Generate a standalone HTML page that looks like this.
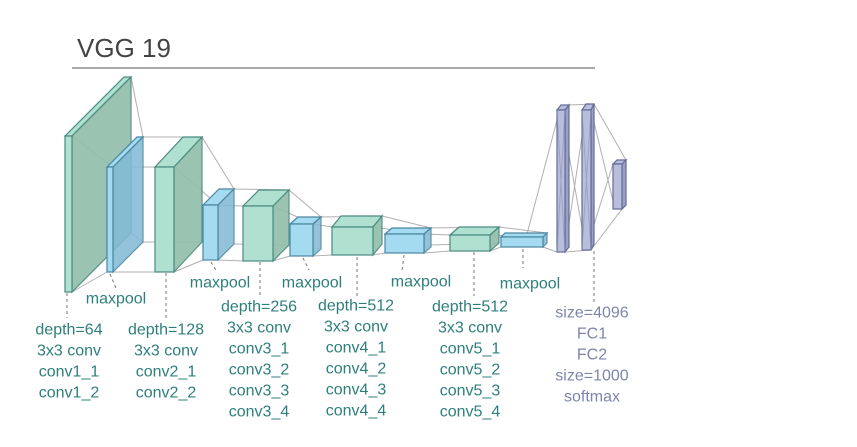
<!DOCTYPE html>
<html><head><meta charset="utf-8"><style>
html,body{margin:0;padding:0;background:#fff;}
svg{display:block;}
.t{font-family:"Liberation Sans",sans-serif;font-size:16px;fill:#2e7f7c;text-anchor:middle;dominant-baseline:central;}
.f{fill:#7d86aa;}
.gf{fill:#b0e0cf;stroke:#4b8a80;stroke-width:1.2;}
.gs{fill:#92bfab;stroke:#4b8a80;stroke-width:1.2;opacity:.92;}
.bf{fill:#a4dbf1;stroke:#4a86a0;stroke-width:1.2;}
.bs{fill:#84bbd6;stroke:#4a86a0;stroke-width:1.2;opacity:.88;}
.pf{fill:#b9bedd;stroke:#646a96;stroke-width:1.2;}
.ps{fill:#9ba1c6;stroke:#646a96;stroke-width:1.2;}
.c{stroke:#b0b0b0;stroke-width:1;fill:none;}
.d{stroke:#777;stroke-width:1;stroke-dasharray:3,3;fill:none;}
</style></head><body>
<svg width="857" height="447" viewBox="0 0 857 447">
<text x="77" y="57" style="font-family:'Liberation Sans',sans-serif;font-size:26px;fill:#444;">VGG 19</text>
<line x1="72" y1="68" x2="595" y2="68" stroke="#777" stroke-width="1.2"/>

<!-- connectors -->
<g class="c">
<line x1="131" y1="77" x2="143" y2="137"/>
<line x1="72" y1="136" x2="113" y2="167"/>
<line x1="72" y1="292" x2="107" y2="272"/>
<line x1="143" y1="137" x2="202" y2="137"/>
<line x1="113" y1="167" x2="155" y2="167"/>
<line x1="113" y1="272" x2="155" y2="272"/>
<line x1="130" y1="232" x2="143" y2="242"/>
<line x1="143" y1="242" x2="202" y2="242"/>
<line x1="202" y1="137" x2="234" y2="189"/>
<line x1="174" y1="167" x2="218" y2="205"/>
<line x1="174" y1="272" x2="203" y2="260"/>
<line x1="234" y1="189" x2="289" y2="190"/>
<line x1="218" y1="205" x2="243" y2="206"/>
<line x1="218" y1="260" x2="243" y2="261"/>
<line x1="234" y1="244" x2="289" y2="245"/>
<line x1="289" y1="190" x2="321" y2="217"/>
<line x1="273" y1="206" x2="313" y2="224"/>
<line x1="273" y1="261" x2="290" y2="256"/>
<line x1="321" y1="217" x2="382" y2="216"/>
<line x1="313" y1="224" x2="332" y2="227"/>
<line x1="313" y1="256" x2="332" y2="255"/>
<line x1="382" y1="216" x2="431" y2="228"/>
<line x1="373" y1="227" x2="424" y2="234"/>
<line x1="373" y1="255" x2="385" y2="253"/>
<line x1="431" y1="228" x2="499" y2="227"/>
<line x1="424" y1="234" x2="450" y2="235"/>
<line x1="424" y1="253" x2="450" y2="251"/>
<line x1="431" y1="245" x2="499" y2="243"/>
<line x1="499" y1="227" x2="547" y2="233"/>
<line x1="490" y1="235" x2="543" y2="237"/>
<line x1="490" y1="251" x2="501" y2="247"/>
<line x1="527" y1="234" x2="561" y2="105"/>
<line x1="543" y1="247" x2="557" y2="252"/>
<line x1="569" y1="105" x2="594" y2="104"/>
<line x1="565" y1="252" x2="591" y2="250"/>
<line x1="561" y1="110" x2="586" y2="250"/>
<line x1="565" y1="250" x2="586" y2="110"/>
<line x1="594" y1="104" x2="626" y2="160"/>
<line x1="591" y1="110" x2="615" y2="209"/>
<line x1="591" y1="250" x2="622" y2="209"/>
<line x1="586" y1="250" x2="613" y2="164"/>
</g>

<!-- B1 -->
<polygon class="gf" points="65,136 124,77 131,77 72,136"/>
<polygon class="gs" points="72,136 131,77 131,233 72,292"/>
<rect class="gf" x="65" y="136" width="7" height="156"/>
<!-- B2 -->
<polygon class="bf" points="107,167 137,137 143,137 113,167"/>
<polygon class="bs" points="113,167 143,137 143,242 113,272"/>
<rect class="bf" x="107" y="167" width="6" height="105"/>
<!-- B3 -->
<polygon class="gf" points="155,167 183,137 202,137 174,167"/>
<polygon class="gs" points="174,167 202,137 202,242 174,272"/>
<rect class="gf" x="155" y="167" width="19" height="105"/>
<!-- B4 -->
<polygon class="bf" points="203,205 219,189 234,189 218,205"/>
<polygon class="bs" points="218,205 234,189 234,244 218,260"/>
<rect class="bf" x="203" y="205" width="15" height="55"/>
<!-- B5 -->
<polygon class="gf" points="243,206 259,190 289,190 273,206"/>
<polygon class="gs" points="273,206 289,190 289,245 273,261"/>
<rect class="gf" x="243" y="206" width="30" height="55"/>
<!-- B6 -->
<polygon class="bf" points="290,224 298,217 321,217 313,224"/>
<polygon class="bs" points="313,224 321,217 321,249 313,256"/>
<rect class="bf" x="290" y="224" width="23" height="32"/>
<!-- B7 -->
<polygon class="gf" points="332,227 341,216 382,216 373,227"/>
<polygon class="gs" points="373,227 382,216 382,244 373,255"/>
<rect class="gf" x="332" y="227" width="41" height="28"/>
<!-- B8 -->
<polygon class="bf" points="385,234 392,228 431,228 424,234"/>
<polygon class="bs" points="424,234 431,228 431,247 424,253"/>
<rect class="bf" x="385" y="234" width="39" height="19"/>
<!-- B9 -->
<polygon class="gf" points="450,235 459,227 499,227 490,235"/>
<polygon class="gs" points="490,235 499,227 499,243 490,251"/>
<rect class="gf" x="450" y="235" width="40" height="16"/>
<!-- B10 -->
<polygon class="bf" points="501,237 505,233 547,233 543,237"/>
<polygon class="bs" points="543,237 547,233 547,243 543,247"/>
<rect class="bf" x="501" y="237" width="42" height="10"/>
<!-- FC -->
<polygon class="pf" points="557,110 561,105 569,105 565,110"/>
<polygon class="ps" points="565,110 569,105 569,247 565,252"/>
<rect class="pf" x="557" y="110" width="8" height="142"/>
<polygon class="pf" points="582,110 586,104 594,104 591,110"/>
<polygon class="ps" points="591,110 594,104 594,244 591,250"/>
<rect class="pf" x="582" y="110" width="9" height="140"/>
<polygon class="pf" points="613,164 617,160 626,160 622,164"/>
<polygon class="ps" points="622,164 626,160 626,205 622,209"/>
<rect class="pf" x="613" y="164" width="9" height="45"/>
<g class="c" style="stroke:#8890b0;opacity:.6">
<line x1="557" y1="110" x2="565" y2="252"/><line x1="565" y1="110" x2="557" y2="252"/>
<line x1="582" y1="110" x2="591" y2="250"/><line x1="591" y1="110" x2="582" y2="250"/>
</g>

<!-- dashed / pointer lines -->
<g class="d">
<line x1="67" y1="293" x2="67" y2="318"/>
<line x1="166" y1="273" x2="166" y2="318"/>
<line x1="260" y1="262" x2="260" y2="296"/>
<line x1="357" y1="257" x2="357" y2="296"/>
<line x1="474" y1="252" x2="474" y2="296"/>
<line x1="594" y1="251" x2="594" y2="302"/>
<line x1="110" y1="274" x2="116" y2="288"/>
<line x1="211" y1="262" x2="217" y2="272"/>
<line x1="303" y1="258" x2="309" y2="270"/>
<line x1="404" y1="255" x2="402" y2="271"/>
<line x1="523" y1="249" x2="523" y2="268"/>
</g>

<!-- labels -->
<text class="t" x="116" y="299">maxpool</text>
<text class="t" x="220" y="283">maxpool</text>
<text class="t" x="312" y="283">maxpool</text>
<text class="t" x="421" y="282">maxpool</text>
<text class="t" x="530" y="284">maxpool</text>

<text class="t" x="69" y="330">depth=64</text>
<text class="t" x="69" y="351">3x3 conv</text>
<text class="t" x="69" y="372">conv1_1</text>
<text class="t" x="69" y="393">conv1_2</text>

<text class="t" x="166" y="330">depth=128</text>
<text class="t" x="166" y="351">3x3 conv</text>
<text class="t" x="166" y="372">conv2_1</text>
<text class="t" x="166" y="393">conv2_2</text>

<text class="t" x="259" y="307">depth=256</text>
<text class="t" x="259" y="328">3x3 conv</text>
<text class="t" x="259" y="349">conv3_1</text>
<text class="t" x="259" y="370">conv3_2</text>
<text class="t" x="259" y="391">conv3_3</text>
<text class="t" x="259" y="412">conv3_4</text>

<text class="t" x="356" y="306">depth=512</text>
<text class="t" x="356" y="327">3x3 conv</text>
<text class="t" x="356" y="348">conv4_1</text>
<text class="t" x="356" y="369">conv4_2</text>
<text class="t" x="356" y="390">conv4_3</text>
<text class="t" x="356" y="411">conv4_4</text>

<text class="t" x="470" y="307">depth=512</text>
<text class="t" x="470" y="328">3x3 conv</text>
<text class="t" x="470" y="349">conv5_1</text>
<text class="t" x="470" y="370">conv5_2</text>
<text class="t" x="470" y="391">conv5_3</text>
<text class="t" x="470" y="412">conv5_4</text>

<text class="t f" x="592" y="313">size=4096</text>
<text class="t f" x="592" y="334">FC1</text>
<text class="t f" x="592" y="355">FC2</text>
<text class="t f" x="592" y="376">size=1000</text>
<text class="t f" x="592" y="397">softmax</text>
</svg>
</body></html>
